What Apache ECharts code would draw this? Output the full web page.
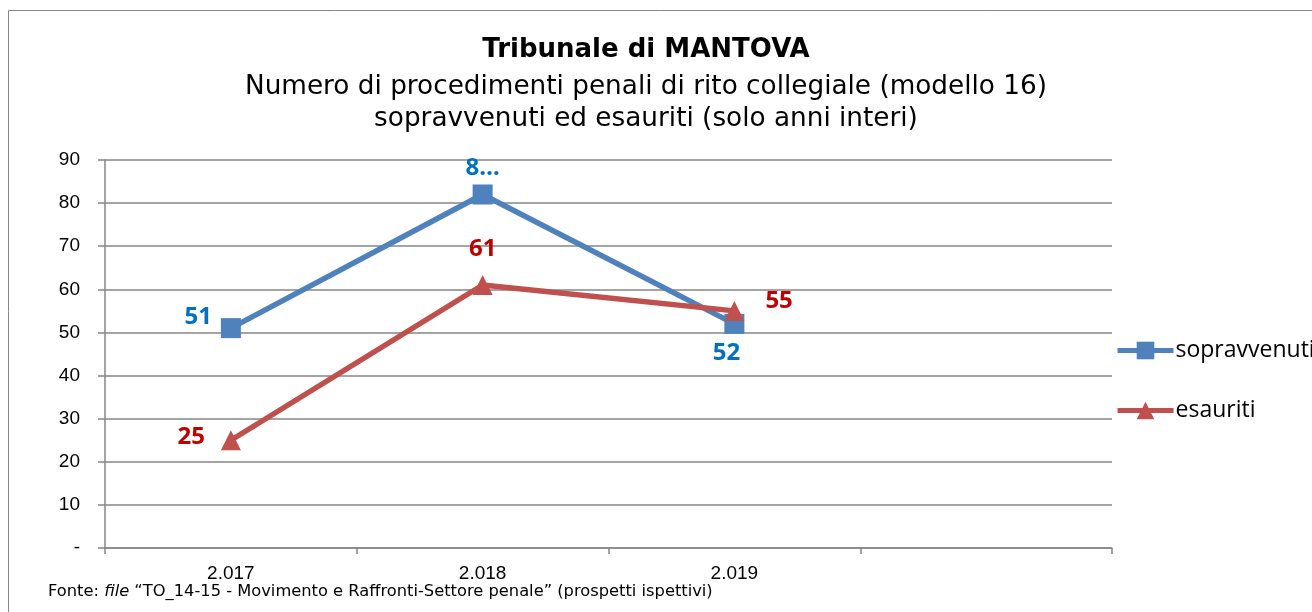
<!DOCTYPE html>
<html><head><meta charset="utf-8">
<script src="https://cdn.jsdelivr.net/npm/echarts@6/dist/echarts.min.js"></script>
<style>html,body{margin:0;padding:0;background:#fff}#c{width:1312px;height:612px}</style>
</head><body><div id="c"></div>
<script>
const categories = ['2.017', '2.018', '2.019', ''];
const sopravvenuti = [51, 82, 52];
const esauriti = [25, 61, 55];
const yTicks = [0, 10, 20, 30, 40, 50, 60, 70, 80, 90];

const chart = echarts.init(document.getElementById('c'));
const lblFont = {fontFamily: 'Open Sans', fontWeight: 'bold', fontSize: 24};
chart.setOption({
  animation: false,
  graphic: [
    {type: 'polyline', shape: {points: [[8.5, 612], [8.5, 10.5], [1312, 10.5]]}, style: {stroke: '#868686', lineWidth: 1, fill: null}},
    {type: 'text', left: 48, top: 584, style: {
      text: '{n|Fonte: }{i|file}{n| “TO_14-15 - Movimento e Raffronti-Settore penale” (prospetti ispettivi)}',
      rich: {n: {fontFamily: 'DejaVu Sans', fontSize: 16.3, fill: '#000'}, i: {fontFamily: 'DejaVu Sans', fontStyle: 'italic', fontSize: 16.3, fill: '#000'}}
    }}
  ],
  title: {
    text: 'Tribunale di MANTOVA',
    subtext: 'Numero di procedimenti penali di rito collegiale (modello 16)\nsopravvenuti ed esauriti (solo anni interi)',
    left: 641, textAlign: 'center', top: 31, itemGap: 7,
    textStyle: {fontFamily: 'DejaVu Sans', fontWeight: 'bold', fontSize: 26, lineHeight: 28, color: '#000'},
    subtextStyle: {fontFamily: 'DejaVu Sans', fontSize: 26.3, color: '#000', lineHeight: 32}
  },
  legend: {
    orient: 'vertical', left: 1115, top: 339, padding: 0, itemGap: 37, itemWidth: 56, itemHeight: 22,
    textStyle: {fontFamily: 'Open Sans', fontSize: 23, color: '#000', padding: [0, 0, 0, -3]},
    lineStyle: {width: 5},
    data: ['sopravvenuti', 'esauriti']
  },
  grid: {left: 105, right: 200, top: 160, bottom: 64},
  xAxis: {
    type: 'category', data: categories, boundaryGap: true,
    axisLine: {lineStyle: {color: '#868686', width: 1.5}},
    axisTick: {show: true, length: 6, lineStyle: {color: '#868686', width: 1.5}},
    axisLabel: {fontFamily: 'Liberation Sans', fontSize: 19, color: '#000', margin: 16}
  },
  yAxis: {
    type: 'value', min: 0, max: 90, interval: 10,
    axisLine: {show: true, lineStyle: {color: '#868686', width: 1.5}},
    axisTick: {show: true, length: 7, lineStyle: {color: '#868686', width: 1.5}},
    splitLine: {lineStyle: {color: '#868686', width: 1.5}},
    axisLabel: {fontFamily: 'Liberation Sans', fontSize: 19, color: '#000', margin: 25,
      formatter: v => v === 0 ? '-' : String(v)}
  },
  series: [
    {
      name: 'sopravvenuti', type: 'line',
      symbol: 'rect', symbolSize: 20,
      lineStyle: {color: '#4F81BD', width: 5.5}, itemStyle: {color: '#4F81BD'},
      label: {show: true, color: '#0070C0', ...lblFont},
      data: [
        {value: sopravvenuti[0], label: {position: 'left', distance: 8, offset: [-1, -11]}},
        {value: sopravvenuti[1], label: {position: 'top', distance: 4, formatter: '8…'}},
        {value: sopravvenuti[2], label: {position: 'bottom', distance: 7, offset: [-8, 0]}}
      ]
    },
    {
      name: 'esauriti', type: 'line',
      symbol: 'triangle', symbolSize: 20,
      lineStyle: {color: '#C0504D', width: 5.5}, itemStyle: {color: '#C0504D'},
      label: {show: true, color: '#C00000', ...lblFont},
      data: [
        {value: esauriti[0], label: {position: 'left', distance: 16, offset: [0, -3]}},
        {value: esauriti[1], label: {position: 'top', distance: 14}},
        {value: esauriti[2], label: {position: 'right', distance: 21, offset: [0, -10]}}
      ]
    }
  ]
});
</script></body></html>
